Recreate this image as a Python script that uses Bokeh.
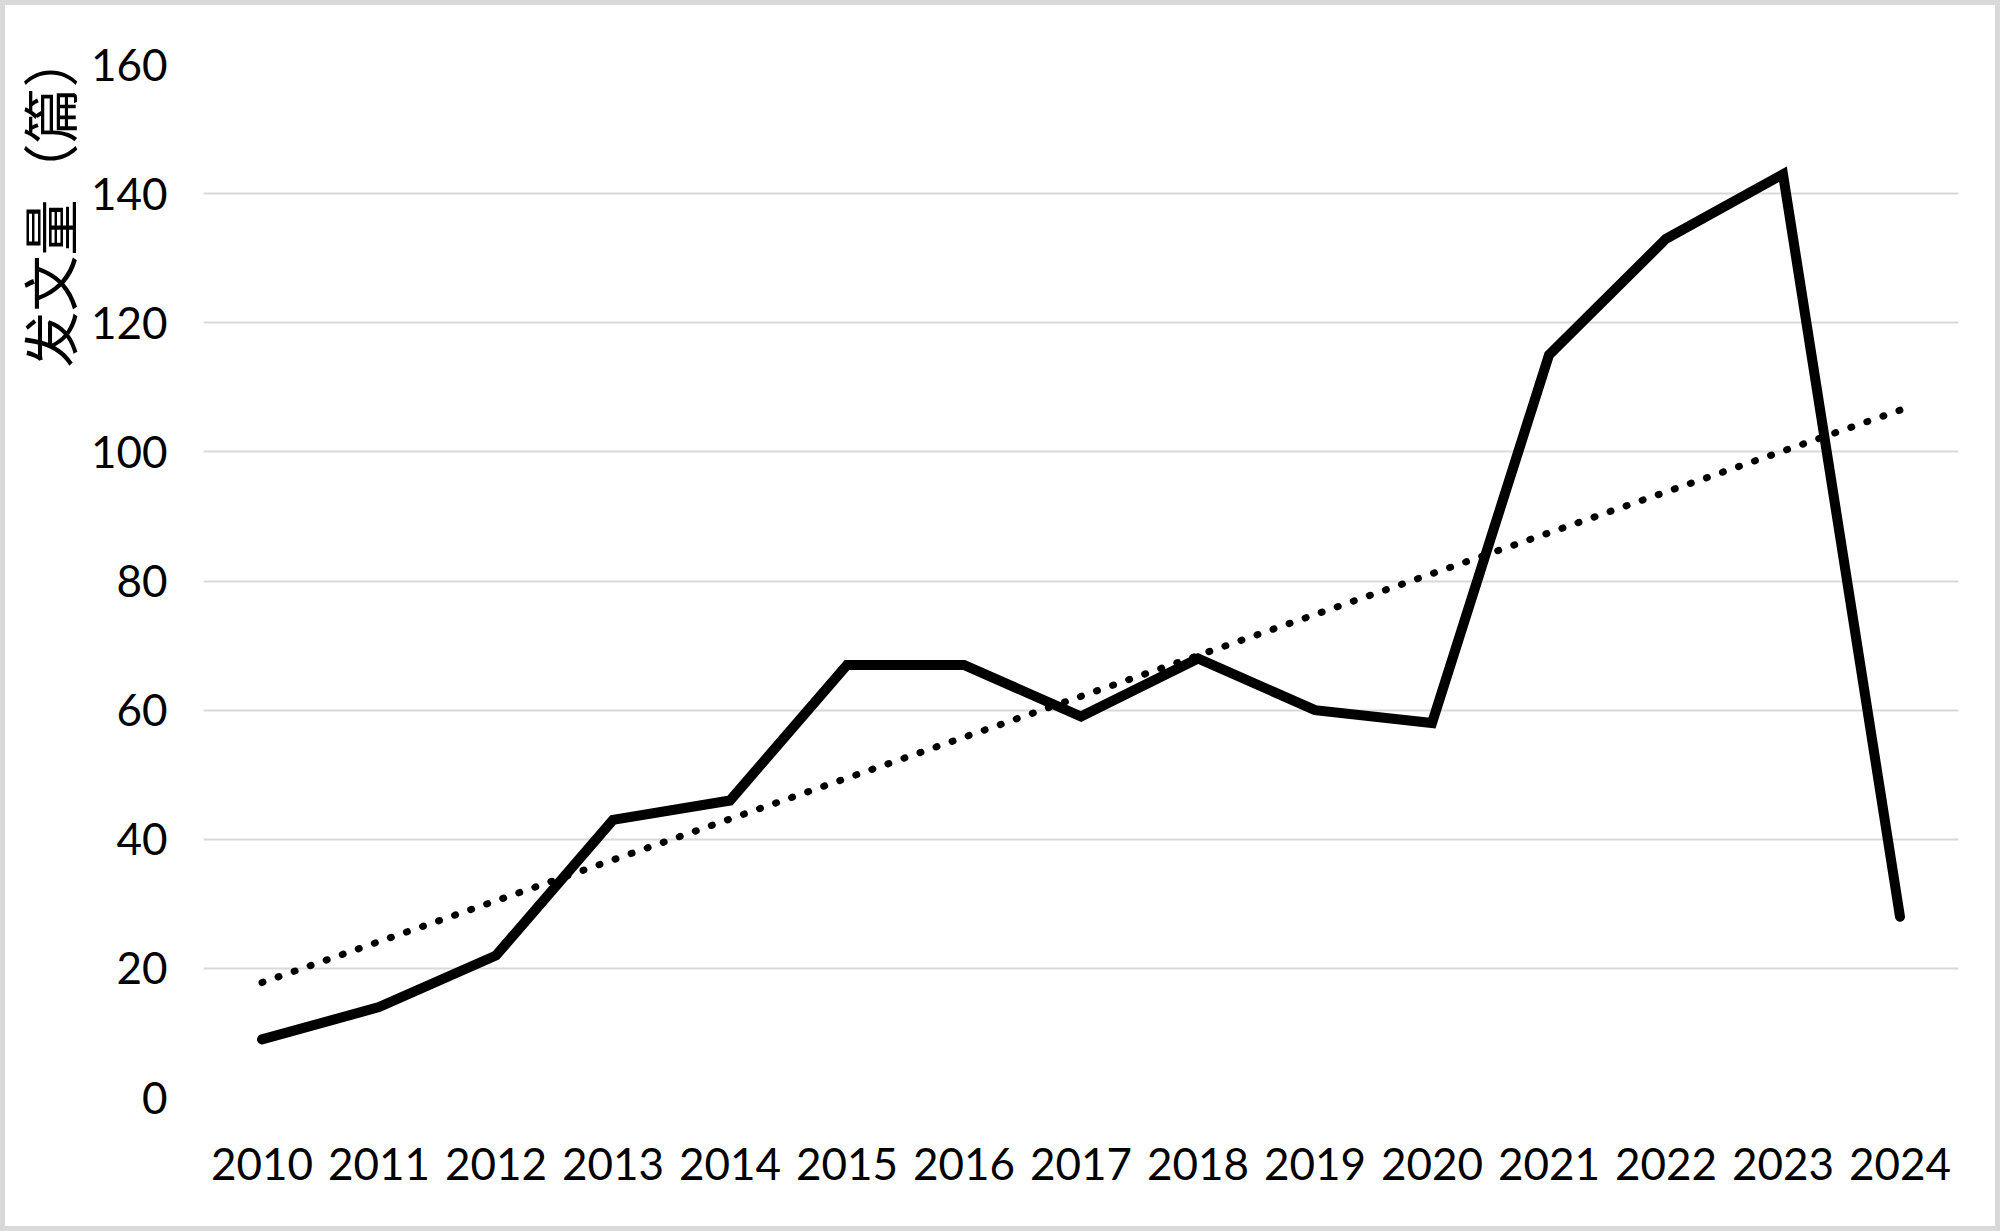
import numpy as np
from bokeh.plotting import figure
from bokeh.models import Range1d, FixedTicker, Title
from bokeh.embed import file_html
from bokeh.resources import INLINE

years = ["2010", "2011", "2012", "2013", "2014", "2015", "2016", "2017",
         "2018", "2019", "2020", "2021", "2022", "2023", "2024"]
counts = [9, 14, 22, 43, 46, 67, 67, 59, 68, 60, 58, 115, 133, 143, 28]
y_ticks = [0, 20, 40, 60, 80, 100, 120, 140, 160]
y_label = "发文量（篇）"

# linear trend line (least squares) from the series
idx = np.arange(len(counts))
coef = np.polyfit(idx, counts, 1)
trend = list(np.polyval(coef, idx))

TICK_FONT = "Lato"

p = figure(x_range=years, y_range=Range1d(0, 160),
           width=1990, height=1221,
           output_backend="svg", toolbar_location=None,
           min_border_left=198, min_border_right=47,
           min_border_top=59, min_border_bottom=139)
p.styles = {"position": "absolute", "top": "0px", "left": "0px",
            "border": "5px solid #d9d9d9", "box-sizing": "content-box"}

p.background_fill_color = "white"
p.border_fill_color = "white"
p.outline_line_color = None

p.xgrid.grid_line_color = None
p.ygrid.grid_line_color = "#d9d9d9"
p.ygrid.grid_line_width = 2

p.yaxis.ticker = FixedTicker(ticks=y_ticks)
for ax in (p.xaxis, p.yaxis):
    ax.axis_line_color = None
    ax.major_tick_line_color = None
    ax.minor_tick_line_color = None
    ax.major_tick_out = 0
    ax.major_tick_in = 0
    ax.major_label_text_font = TICK_FONT
    ax.major_label_text_font_size = "44px"
    ax.major_label_text_color = "black"
p.xaxis.major_label_standoff = 50
p.yaxis.major_label_standoff = 36

p.line(years, trend, line_color="black", line_width=7,
       line_dash="1 16", line_cap="round")
p.line(years, counts, line_color="black", line_width=10,
       line_cap="round", line_join="miter")

t = Title(text=y_label, align="right", text_font="Noto Sans CJK SC",
          text_font_size="56px", text_font_style="normal",
          text_color="black", standoff=-1, offset=-33,
          text_line_height=0.8)
p.add_layout(t, "left")

open("out.html", "w").write(file_html(p, INLINE))
